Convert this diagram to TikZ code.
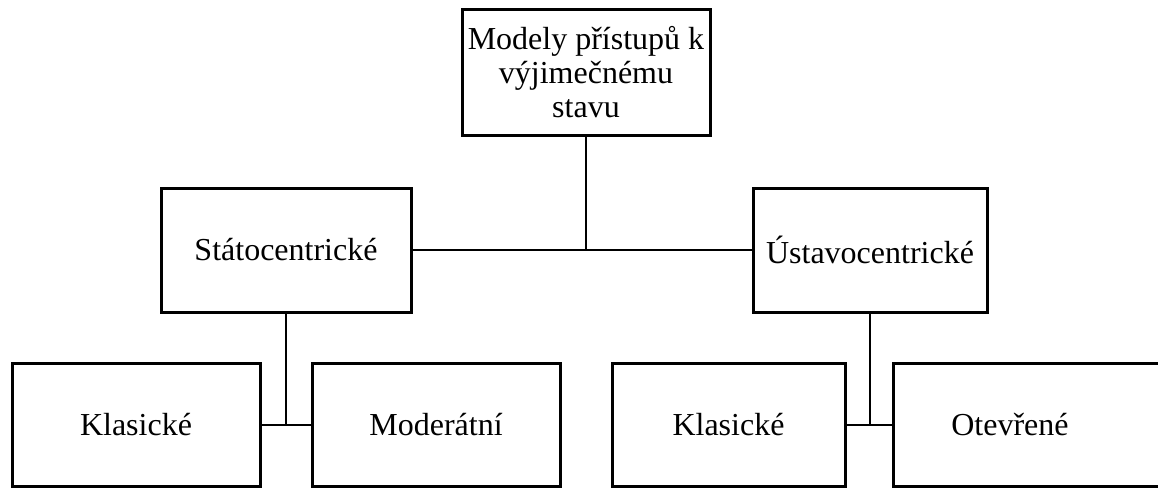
\documentclass[tikz,border=0pt]{standalone}
\usepackage{fontspec}
\setmainfont{Liberation Serif}
\usetikzlibrary{positioning}

\tikzset{
  box/.style={draw, line width=3pt, inner sep=0pt, align=center,
    font=\fontsize{32}{34}\selectfont},
  link/.style={line width=2pt}
}

\begin{document}
\begin{tikzpicture}[x=1pt,y=-1pt]

        % Rozměry
        \def\W{1158} % šířka
        \def\H{487}  % výška
        \clip (0,0) rectangle (\W,\H);

        % Kořen
        \node[box, minimum width=248pt, minimum height=125pt] (root) at (586,72.5)
          {Modely přístupů k\\výjimečnému\\stavu};

        % Druhá úroveň
        \node[box, minimum width=250pt, minimum height=124pt] (stat) at (286,250) {Státocentrické};
        \node[box, minimum width=234pt, minimum height=124pt] (ust) at (870,250) {Ústavocentrické};

        % Třetí úroveň
        \node[box, minimum width=248pt, minimum height=123pt] (klas1) at (136,424.5) {Klasické};
        \node[box, minimum width=248pt, minimum height=123pt] (moder) at (436,424.5) {Moderátní};
        \node[box, minimum width=233pt, minimum height=123pt] (klas2) at (728.5,424.5) {Klasické};
        \node[box, minimum width=280pt, minimum height=123pt] (otev) at (1033,424.5) {\hspace*{-46pt}Otevřené}; % přesahuje okraj

        % Spojnice
        \draw[link] (stat) -- (ust);
        \draw[link] (root) -- (root |- stat);
        \draw[link] (stat) -- (stat |- moder);
        \draw[link] (klas1) -- (moder);
        \draw[link] (ust) -- (ust |- otev);
        \draw[link] (klas2) -- (otev);

\end{tikzpicture}
\end{document}
